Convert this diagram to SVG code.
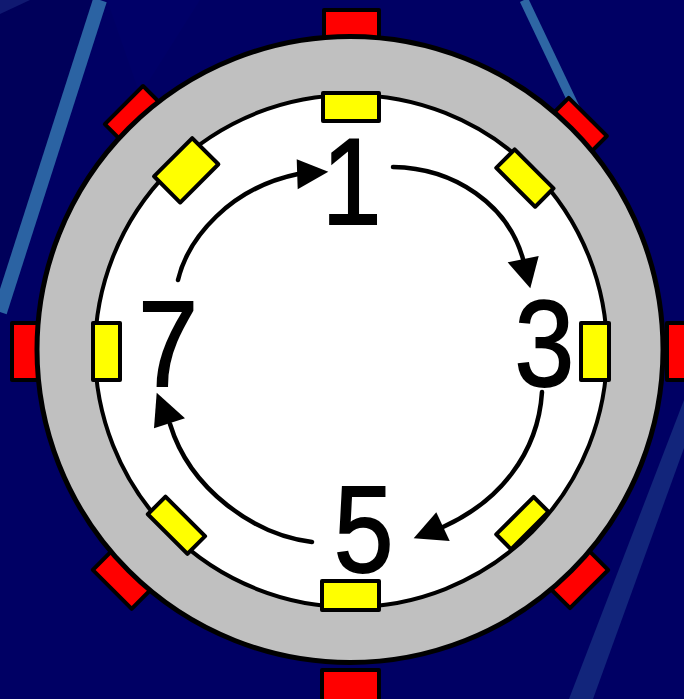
<svg xmlns="http://www.w3.org/2000/svg" width="684" height="699" viewBox="0 0 684 699">
  <style>
    .red{fill:#ff0000;stroke:#000;stroke-width:4;stroke-linejoin:round}
    .yel{fill:#ffff00;stroke:#000;stroke-width:4;stroke-linejoin:round}
    .arc{fill:none;stroke:#000;stroke-width:4.5;stroke-linecap:round}
    .head{fill:#000}
    .num{font-family:"Liberation Sans",Arial,sans-serif;font-size:122px;fill:#000;stroke:#000;stroke-width:1.8;text-anchor:middle}
  </style>
  <g id="background">
    <rect x="0" y="0" width="684" height="699" fill="#000064"/>
    <polygon points="0,0 100,0 0,310" fill="#00005a"/>
    <polygon points="107,0 200,0 140,95" fill="#00006a" opacity="0.6"/>
    <polygon points="0,0 30,0 0,14" fill="#1a2a80" opacity="0.6"/>
    <line x1="100" y1="0" x2="0" y2="312" stroke="#2b63a3" stroke-width="14"/>
    <line x1="524" y1="0" x2="582" y2="122" stroke="#2e66a4" stroke-width="9"/>
    <polygon points="684,400 684,448 593,699 569,699" fill="#21438e" opacity="0.55"/>
  </g>
  <g id="red-pads">
    <rect class="red" x="324" y="10" width="55" height="32"/>
    <rect class="red" x="12" y="323" width="32" height="57"/>
    <rect class="red" x="667" y="323" width="32" height="57"/>
    <rect class="red" x="322" y="670" width="57" height="32"/>
    <rect class="red" x="-27" y="2" width="54" height="30" transform="translate(122.5,103.7) rotate(-45)"/>
    <rect class="red" x="-27" y="2" width="54" height="30" transform="translate(589.2,115.5) rotate(45)"/>
    <rect class="red" x="-27.5" y="2" width="55" height="30" transform="translate(110.8,590.8) rotate(225)"/>
    <rect class="red" x="-27" y="2" width="54" height="30" transform="translate(590.5,590.5) rotate(135)"/>
  </g>
  <g id="ring">
    <circle cx="350" cy="349.5" r="313" fill="#c0c0c0" stroke="#000" stroke-width="5"/>
    <circle cx="351" cy="351" r="256" fill="#ffffff" stroke="#000" stroke-width="4"/>
  </g>
  <g id="yellow-pads">
    <rect class="yel" x="323" y="93" width="56" height="28"/>
    <rect class="yel" x="93" y="323" width="27" height="57"/>
    <rect class="yel" x="581" y="323" width="28" height="57"/>
    <rect class="yel" x="322" y="581" width="57" height="29"/>
    <rect class="yel" x="-27" y="2" width="54" height="37" transform="translate(171.7,155.8) rotate(-45)"/>
    <rect class="yel" x="-27.5" y="2" width="55" height="26" transform="translate(535.5,167.5) rotate(45)"/>
    <rect class="yel" x="-28" y="2" width="56" height="25" transform="translate(166.2,535.5) rotate(225)"/>
    <rect class="yel" x="-26.5" y="2" width="53" height="21" transform="translate(531.2,531.9) rotate(135)"/>
  </g>
  <g id="connectors">
    <path class="arc" d="M178,280 C188,238 230,188 298,174"/>
    <polygon class="head" points="328.3,171.7 296.7,159.3 297.7,189.3"/>
    <path class="arc" d="M393,167 C455,168 508,205 523,259"/>
    <polygon class="head" points="530.3,288.3 507.7,262.3 538.7,256"/>
    <path class="arc" d="M542,392 C538,455 498,502 443,527"/>
    <polygon class="head" points="413.7,538.3 436.3,512.3 449.7,541"/>
    <path class="arc" d="M312,542 C255,535 190,490 170,424"/>
    <polygon class="head" points="156.7,392.7 154,428.3 185,418.3"/>
  </g>
  <g id="node-1"><text class="num" transform="translate(351.5,223.5) scale(0.88,1)">1</text></g>
  <g id="node-3"><text class="num" transform="translate(544.4,385.5) scale(0.88,1)">3</text></g>
  <g id="node-5"><text class="num" transform="translate(363.5,571.5) scale(0.88,1)">5</text></g>
  <g id="node-7"><text class="num" transform="translate(168,385.5) scale(0.88,1)">7</text></g>
</svg>
